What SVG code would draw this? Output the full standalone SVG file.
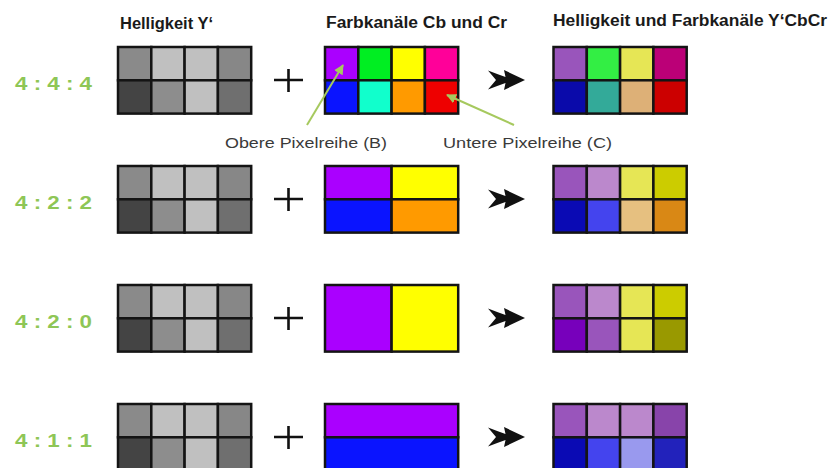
<svg xmlns="http://www.w3.org/2000/svg" xmlns:xlink="http://www.w3.org/1999/xlink" width="830" height="468" viewBox="0 0 830 468">
  <style>
    .hdr { font-family: "Liberation Sans", Arial, sans-serif; font-weight: bold; font-size: 16px; fill: #1a1a1a; }
    .ratio { font-family: "Liberation Sans", Arial, sans-serif; font-weight: bold; font-size: 19px; fill: #8ec656; }
    .note { font-family: "Liberation Sans", Arial, sans-serif; font-size: 15px; fill: #3a3a3a; }
    .cell { stroke: #141414; stroke-width: 2.5; }
    .plus { stroke: #111; stroke-width: 2.6; fill: none; }
    .arrow { fill: #111; }
    .lead { stroke: #a6c95e; stroke-width: 2; fill: none; }
  </style>
  <defs>
    <marker id="leadHead" viewBox="0 0 10 10" refX="9" refY="5" markerWidth="5" markerHeight="5" orient="auto">
      <path d="M0,0 L10,5 L0,10 Z" fill="#a6c95e"/>
    </marker>
    <!-- luma block: same for every row -->
    <g id="luma">
      <rect class="cell" x="0" y="0" width="33.3" height="33.3" fill="#8a8a8a"/>
      <rect class="cell" x="33.3" y="0" width="33.3" height="33.3" fill="#c0c0c0"/>
      <rect class="cell" x="66.6" y="0" width="33.3" height="33.3" fill="#c0c0c0"/>
      <rect class="cell" x="99.9" y="0" width="33.3" height="33.3" fill="#878787"/>
      <rect class="cell" x="0" y="33.3" width="33.3" height="33.3" fill="#444444"/>
      <rect class="cell" x="33.3" y="33.3" width="33.3" height="33.3" fill="#8d8d8d"/>
      <rect class="cell" x="66.6" y="33.3" width="33.3" height="33.3" fill="#c0c0c0"/>
      <rect class="cell" x="99.9" y="33.3" width="33.3" height="33.3" fill="#6f6f6f"/>
    </g>
    <path id="plusSign" class="plus" d="M274,80 H303 M288.5,69 V92"/>
    <path id="dblArrow" class="arrow" d="M488,70.5 Q497,74 505.5,77 L504,70 L525,80 L504,90 L505.5,83 Q497,86 488,89.5 L496,80 Z"/>
  </defs>

  <rect width="830" height="468" fill="#ffffff"/>

  <!-- column headings -->
  <g id="header-luma"><text class="hdr" x="120" y="29" textLength="93" lengthAdjust="spacingAndGlyphs">Helligkeit Y‘</text></g>
  <g id="header-chroma"><text class="hdr" x="326" y="28" textLength="181" lengthAdjust="spacingAndGlyphs">Farbkanäle Cb und Cr</text></g>
  <g id="header-result"><text class="hdr" x="553" y="26" textLength="274" lengthAdjust="spacingAndGlyphs">Helligkeit und Farbkanäle Y‘CbCr</text></g>

  <!-- row 4:4:4 -->
  <g id="row-444">
    <text class="ratio" x="15" y="90" textLength="77" lengthAdjust="spacingAndGlyphs">4 : 4 : 4</text>
    <use xlink:href="#luma" x="118" y="47"/>
    <use xlink:href="#plusSign"/>
    <g id="chroma-444">
      <rect class="cell" x="325" y="47" width="33.3" height="33.3" fill="#aa00ff"/>
      <rect class="cell" x="358.3" y="47" width="33.3" height="33.3" fill="#00ee22"/>
      <rect class="cell" x="391.6" y="47" width="33.3" height="33.3" fill="#ffff00"/>
      <rect class="cell" x="424.9" y="47" width="33.3" height="33.3" fill="#ff0099"/>
      <rect class="cell" x="325" y="80.3" width="33.3" height="33.3" fill="#0a14ff"/>
      <rect class="cell" x="358.3" y="80.3" width="33.3" height="33.3" fill="#11ffcc"/>
      <rect class="cell" x="391.6" y="80.3" width="33.3" height="33.3" fill="#ff9a00"/>
      <rect class="cell" x="424.9" y="80.3" width="33.3" height="33.3" fill="#ee0000"/>
    </g>
    <use xlink:href="#dblArrow"/>
    <g id="result-444">
      <rect class="cell" x="553.5" y="47" width="33.3" height="33.3" fill="#9955bb"/>
      <rect class="cell" x="586.8" y="47" width="33.3" height="33.3" fill="#33ee44"/>
      <rect class="cell" x="620.1" y="47" width="33.3" height="33.3" fill="#e6e655"/>
      <rect class="cell" x="653.4" y="47" width="33.3" height="33.3" fill="#bb0077"/>
      <rect class="cell" x="553.5" y="80.3" width="33.3" height="33.3" fill="#0a0aaa"/>
      <rect class="cell" x="586.8" y="80.3" width="33.3" height="33.3" fill="#33aa99"/>
      <rect class="cell" x="620.1" y="80.3" width="33.3" height="33.3" fill="#ddb077"/>
      <rect class="cell" x="653.4" y="80.3" width="33.3" height="33.3" fill="#cc0000"/>
    </g>
  </g>

  <!-- pixel-row callouts -->
  <g id="note-upper"><text class="note" x="225" y="148" textLength="162" lengthAdjust="spacingAndGlyphs">Obere Pixelreihe (B)</text></g>
  <g id="note-lower"><text class="note" x="443" y="148" textLength="169" lengthAdjust="spacingAndGlyphs">Untere Pixelreihe (C)</text></g>
  <g id="connectors">
    <line class="lead" x1="307" y1="125" x2="343" y2="65" marker-end="url(#leadHead)"/>
    <line class="lead" x1="514" y1="125" x2="447" y2="95" marker-end="url(#leadHead)"/>
  </g>

  <!-- row 4:2:2 -->
  <g id="row-422">
    <text class="ratio" x="15" y="209" textLength="77" lengthAdjust="spacingAndGlyphs">4 : 2 : 2</text>
    <use xlink:href="#luma" x="118" y="166"/>
    <use xlink:href="#plusSign" y="119"/>
    <g id="chroma-422">
      <rect class="cell" x="325" y="166" width="66.6" height="33.3" fill="#aa00ff"/>
      <rect class="cell" x="391.6" y="166" width="66.6" height="33.3" fill="#ffff00"/>
      <rect class="cell" x="325" y="199.3" width="66.6" height="33.3" fill="#0a14ff"/>
      <rect class="cell" x="391.6" y="199.3" width="66.6" height="33.3" fill="#ff9a00"/>
    </g>
    <use xlink:href="#dblArrow" y="119"/>
    <g id="result-422">
      <rect class="cell" x="553.5" y="166" width="33.3" height="33.3" fill="#9955bb"/>
      <rect class="cell" x="586.8" y="166" width="33.3" height="33.3" fill="#bb88cc"/>
      <rect class="cell" x="620.1" y="166" width="33.3" height="33.3" fill="#e6e655"/>
      <rect class="cell" x="653.4" y="166" width="33.3" height="33.3" fill="#cccc00"/>
      <rect class="cell" x="553.5" y="199.3" width="33.3" height="33.3" fill="#0a0ab4"/>
      <rect class="cell" x="586.8" y="199.3" width="33.3" height="33.3" fill="#4444ee"/>
      <rect class="cell" x="620.1" y="199.3" width="33.3" height="33.3" fill="#e6c080"/>
      <rect class="cell" x="653.4" y="199.3" width="33.3" height="33.3" fill="#d98815"/>
    </g>
  </g>

  <!-- row 4:2:0 -->
  <g id="row-420">
    <text class="ratio" x="15" y="328" textLength="77" lengthAdjust="spacingAndGlyphs">4 : 2 : 0</text>
    <use xlink:href="#luma" x="118" y="285"/>
    <use xlink:href="#plusSign" y="238"/>
    <g id="chroma-420">
      <rect class="cell" x="325" y="285" width="66.6" height="66.6" fill="#aa00ff"/>
      <rect class="cell" x="391.6" y="285" width="66.6" height="66.6" fill="#ffff00"/>
    </g>
    <use xlink:href="#dblArrow" y="238"/>
    <g id="result-420">
      <rect class="cell" x="553.5" y="285" width="33.3" height="33.3" fill="#9955bb"/>
      <rect class="cell" x="586.8" y="285" width="33.3" height="33.3" fill="#bb88cc"/>
      <rect class="cell" x="620.1" y="285" width="33.3" height="33.3" fill="#e6e655"/>
      <rect class="cell" x="653.4" y="285" width="33.3" height="33.3" fill="#cccc00"/>
      <rect class="cell" x="553.5" y="318.3" width="33.3" height="33.3" fill="#7700bb"/>
      <rect class="cell" x="586.8" y="318.3" width="33.3" height="33.3" fill="#9955bb"/>
      <rect class="cell" x="620.1" y="318.3" width="33.3" height="33.3" fill="#e6e655"/>
      <rect class="cell" x="653.4" y="318.3" width="33.3" height="33.3" fill="#999900"/>
    </g>
  </g>

  <!-- row 4:1:1 -->
  <g id="row-411">
    <text class="ratio" x="15" y="447" textLength="77" lengthAdjust="spacingAndGlyphs">4 : 1 : 1</text>
    <use xlink:href="#luma" x="118" y="404"/>
    <use xlink:href="#plusSign" y="357"/>
    <g id="chroma-411">
      <rect class="cell" x="325" y="404" width="133.2" height="33.3" fill="#aa00ff"/>
      <rect class="cell" x="325" y="437.3" width="133.2" height="33.3" fill="#0a14ff"/>
    </g>
    <use xlink:href="#dblArrow" y="357"/>
    <g id="result-411">
      <rect class="cell" x="553.5" y="404" width="33.3" height="33.3" fill="#9955bb"/>
      <rect class="cell" x="586.8" y="404" width="33.3" height="33.3" fill="#bb88cc"/>
      <rect class="cell" x="620.1" y="404" width="33.3" height="33.3" fill="#bb88cc"/>
      <rect class="cell" x="653.4" y="404" width="33.3" height="33.3" fill="#8844aa"/>
      <rect class="cell" x="553.5" y="437.3" width="33.3" height="33.3" fill="#0a0ab4"/>
      <rect class="cell" x="586.8" y="437.3" width="33.3" height="33.3" fill="#4444ee"/>
      <rect class="cell" x="620.1" y="437.3" width="33.3" height="33.3" fill="#9999ee"/>
      <rect class="cell" x="653.4" y="437.3" width="33.3" height="33.3" fill="#2222bb"/>
    </g>
  </g>
</svg>
